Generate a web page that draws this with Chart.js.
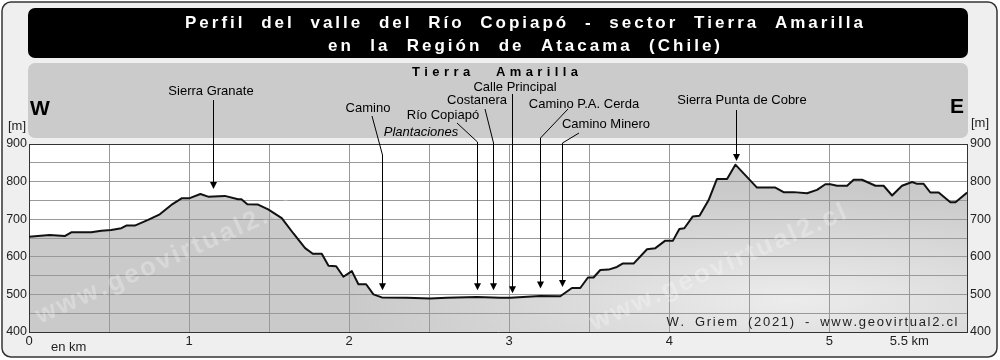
<!DOCTYPE html>
<html>
<head>
<meta charset="utf-8">
<script src="https://cdn.jsdelivr.net/npm/chart.js@4.4.1/dist/chart.umd.min.js"></script>
<style>
  html, body { margin: 0; padding: 0; background: #fff; }
  canvas { display: block; }
</style>
</head>
<body>
<canvas id="perfil" width="1000" height="360"></canvas>
<script>
// perfil topografico, distancia en km / altura en m
const KM = [0, 0.129, 0.223, 0.264, 0.389, 0.452, 0.514, 0.577, 0.608, 0.661, 0.744, 0.817, 0.889, 0.956,
  1.004, 1.071, 1.119, 1.223, 1.306, 1.327, 1.364, 1.431, 1.494, 1.579, 1.652, 1.725, 1.773, 1.829, 1.871,
  1.919, 1.964, 2.017, 2.058, 2.106, 2.152, 2.204, 2.361, 2.506, 2.611, 2.798, 2.944, 3.006, 3.194, 3.319,
  3.392, 3.444, 3.492, 3.527, 3.569, 3.621, 3.673, 3.708, 3.777, 3.861, 3.913, 3.975, 4.023, 4.063, 4.094,
  4.146, 4.189, 4.246, 4.298, 4.361, 4.413, 4.548, 4.663, 4.714, 4.777, 4.861, 4.923, 4.975, 5.006, 5.048,
  5.111, 5.152, 5.204, 5.246, 5.288, 5.339, 5.392, 5.454, 5.517, 5.548, 5.589, 5.631, 5.683, 5.756, 5.788, 5.861];
const ELEV = [653, 658, 655, 665, 665, 669, 671, 676, 683, 683, 698, 713, 738, 756,
  756, 767, 760, 762, 753, 753, 740, 739, 726, 703, 662, 623, 608, 608, 576,
  575, 547, 562, 527, 527, 500, 492, 491, 489, 491, 493, 491, 491, 496, 495,
  517, 517, 545, 545, 565, 566, 573, 582, 582, 620, 623, 643, 643, 674, 676,
  707, 709, 751, 807, 807, 845, 784, 784, 772, 772, 769, 778, 793, 793, 789,
  789, 805, 805, 797, 789, 789, 763, 789, 799, 794, 794, 771, 771, 745, 745, 771];

const X_TICK_VALUES = [0, 1, 2, 3, 4, 5, 5.5];
const X_TICK_TEXT = ['0', '1', '2', '3', '4', '5', '5.5 km'];
const Y_TICK_VALUES = [400, 500, 600, 700, 800, 900];

const LANDMARKS = ['Sierra Granate', 'Camino', 'Río Copiapó', 'Costanera', 'Calle Principal',
  'Camino P.A. Cerda', 'Camino Minero', 'Sierra Punta de Cobre'];
const LANDMARK_KM = [1.15, 2.203, 2.80, 2.898, 3.02, 3.19, 3.331, 4.414];
const LANDMARK_TIP = [780, 511, 511, 511, 503, 516, 520, 855];

const FONT = "'Liberation Sans', Arial, sans-serif";
Chart.defaults.font.family = FONT;

// posicion de los textos y lineas guia (px)
const LABEL_POS = [
  { lx: 211, ly: 91, sx: null, sy: 100, by: null },
  { lx: 368, ly: 108, sx: 372, sy: 116, by: 155 },
  { lx: 443, ly: 115, sx: 457, sy: 123, by: 142 },
  { lx: 477, ly: 100, sx: 485, sy: 109, by: 143 },
  { lx: 515, ly: 87, sx: null, sy: 94, by: null },
  { lx: 584, ly: 104, sx: 568, sy: 109, by: 138 },
  { lx: 606, ly: 124, sx: 579, sy: 133, by: 143 },
  { lx: 742, ly: 100, sx: null, sy: 110, by: null }
];

const cv = document.getElementById('perfil');
const ctx = cv.getContext('2d');

function makeFill() {
  const c = document.createElement('canvas');
  c.width = 1000; c.height = 360;
  const g = c.getContext('2d');
  g.fillStyle = '#cacaca';
  g.fillRect(0, 0, 1000, 360);
  g.save();
  g.translate(790, 300);
  g.scale(4, 1);
  const rg = g.createRadialGradient(0, 0, 0, 0, 0, 110);
  rg.addColorStop(0, '#ececec');
  rg.addColorStop(1, '#cacaca');
  g.fillStyle = rg;
  g.fillRect(-250, -300, 500, 600);
  g.restore();
  return ctx.createPattern(c, 'no-repeat');
}

function roundRect(c, x, y, w, h, r) {
  c.beginPath();
  c.moveTo(x + r, y);
  c.arcTo(x + w, y, x + w, y + h, r);
  c.arcTo(x + w, y + h, x, y + h, r);
  c.arcTo(x, y + h, x, y, r);
  c.arcTo(x, y, x + w, y, r);
  c.closePath();
}

// texto espaciado, ajustado a un ancho total
function spaced(c, text, cx, cy, ls, width) {
  const chars = [...text];
  const ws = chars.map(ch => c.measureText(ch).width);
  const nSp = chars.filter(ch => ch === ' ').length;
  const base = ws.reduce((a, b) => a + b, 0) + ls * (chars.length - 1);
  const extra = width && nSp ? (width - base) / nSp : 0;
  let x = cx - (base + extra * nSp) / 2;
  c.textAlign = 'left';
  chars.forEach((ch, i) => {
    c.fillText(ch, x, cy);
    x += ws[i] + ls + (ch === ' ' ? extra : 0);
  });
}

const decor = {
  id: 'decor',
  beforeDraw(chart) {
    const c = chart.ctx;
    const ca = chart.chartArea;
    c.save();
    c.globalCompositeOperation = 'destination-over';
    c.fillStyle = '#fff';
    c.fillRect(ca.left, ca.top, ca.right - ca.left, ca.bottom - ca.top);
    c.fillStyle = '#cbcbcb';
    roundRect(c, 28, 63, 940, 75, 7);
    c.fill();
    c.fillStyle = '#000';
    roundRect(c, 28, 8, 940, 50, 7);
    c.fill();
    c.lineWidth = 1.5;
    c.strokeStyle = '#333';
    roundRect(c, 2, 2, 995, 355, 9);
    c.stroke();
    c.fillStyle = '#efefef';
    c.fill();
    c.fillStyle = '#fff';
    c.fillRect(0, 0, 1000, 360);
    c.restore();
  },
  beforeDatasetsDraw(chart) {
    // marca de agua
    const c = chart.ctx;
    const ca = chart.chartArea;
    c.save();
    c.beginPath();
    c.rect(ca.left, ca.top, ca.right - ca.left, ca.bottom - ca.top);
    c.clip();
    c.fillStyle = 'rgba(255,255,255,0.27)';
    c.font = 'bold 26px ' + FONT;
    c.textBaseline = 'alphabetic';
    [[40, 324], [594, 331]].forEach(([x, y]) => {
      c.save();
      c.translate(x, y);
      c.rotate(-24 * Math.PI / 180);
      const txt = 'www.geovirtual2.cl';
      const w = [...txt].reduce((a, ch) => a + c.measureText(ch).width + 2.5, 0) - 2.5;
      spaced(c, txt, w / 2, 0, 2.5, 0);
      c.restore();
    });
    c.restore();
  },
  afterDraw(chart) {
    const c = chart.ctx;
    const ca = chart.chartArea;
    const xs = chart.scales.x;
    const ys = chart.scales.y;
    c.save();
    c.strokeStyle = '#333';
    c.lineWidth = 1;
    c.beginPath();
    c.moveTo(ca.left, Math.round(ca.top) + 0.5);
    c.lineTo(ca.right, Math.round(ca.top) + 0.5);
    c.stroke();

    // flechas
    c.strokeStyle = '#000';
    c.fillStyle = '#000';
    c.lineWidth = 1;
    LANDMARKS.forEach((name, i) => {
      const p = LABEL_POS[i];
      const x = Math.round(xs.getPixelForValue(LANDMARK_KM[i])) + 0.5;
      const yt = ys.getPixelForValue(LANDMARK_TIP[i]);
      c.beginPath();
      if (p.sx !== null) {
        c.moveTo(p.sx, p.sy);
        c.lineTo(x, p.by);
      } else {
        c.moveTo(x, p.sy);
      }
      c.lineTo(x, yt - 6);
      c.stroke();
      c.beginPath();
      c.moveTo(x - 3.5, yt - 7);
      c.lineTo(x + 3.5, yt - 7);
      c.lineTo(x, yt);
      c.closePath();
      c.fill();
      c.font = '13px ' + FONT;
      c.textAlign = 'center';
      c.textBaseline = 'middle';
      c.fillText(name, p.lx, p.ly);
    });
    c.font = 'italic 13px ' + FONT;
    c.textAlign = 'center';
    c.textBaseline = 'middle';
    c.fillText('Plantaciones', 421, 132);

    // titulos
    c.fillStyle = '#fff';
    c.font = 'bold 17px ' + FONT;
    spaced(c, 'Perfil del valle del Río Copiapó - sector Tierra Amarilla', 524, 23, 3, 678);
    spaced(c, 'en la Región de Atacama (Chile)', 524, 46, 3, 392);
    c.fillStyle = '#000';
    c.font = 'bold 13px ' + FONT;
    spaced(c, 'Tierra Amarilla', 495, 72, 4.4, 166);

    c.font = 'bold 21px ' + FONT;
    c.textAlign = 'center';
    c.fillText('W', 40, 109);
    c.fillText('E', 957, 107);

    c.fillStyle = '#222';
    c.font = '13px ' + FONT;
    c.textAlign = 'center';
    c.fillText('[m]', 17, 126);
    c.fillText('[m]', 980, 123);
    c.textAlign = 'left';
    c.fillText('en km', 51, 347);
    spaced(c, 'W. Griem (2021) - www.geovirtual2.cl', 812, 322, 1.7, 291);
    c.restore();
  }
};

const yTick = v => (Y_TICK_VALUES.includes(v) ? String(v) : '');

new Chart(cv, {
  type: 'line',
  data: {
    datasets: [{
      data: KM.map((x, i) => ({ x, y: ELEV[i] })),
      borderColor: '#111',
      borderWidth: 2,
      borderJoinStyle: 'round',
      backgroundColor: makeFill(),
      fill: 'start',
      pointRadius: 0,
      tension: 0
    }]
  },
  options: {
    responsive: false,
    animation: false,
    events: [],
    layout: { padding: { top: 144 } },
    plugins: {
      legend: { display: false },
      tooltip: { enabled: false },
      filler: { drawTime: 'beforeDraw' }
    },
    scales: {
      x: {
        type: 'linear', min: 0, max: 5.86,
        afterFit: s => { s.height = 28; },
        grid: { color: '#999', drawTicks: false },
        border: { color: '#333' },
        ticks: {
          stepSize: 0.5, includeBounds: false, autoSkip: false, maxRotation: 0,
          padding: 2, color: '#222', font: { size: 13 },
          callback: v => { const i = X_TICK_VALUES.indexOf(v); return i < 0 ? '' : X_TICK_TEXT[i]; }
        }
      },
      y: {
        position: 'left', min: 400, max: 900,
        afterFit: s => { s.width = 29; },
        grid: { color: '#999', drawTicks: false },
        border: { color: '#333' },
        ticks: { stepSize: 50, padding: 2, color: '#222', font: { size: 12.5 }, callback: yTick }
      },
      y2: {
        position: 'right', min: 400, max: 900,
        afterFit: s => { s.width = 33; },
        grid: { display: false, drawTicks: false },
        border: { color: '#333' },
        ticks: { stepSize: 50, padding: 3, color: '#222', font: { size: 12.5 }, callback: yTick }
      }
    }
  },
  plugins: [decor]
});
</script>
</body>
</html>
